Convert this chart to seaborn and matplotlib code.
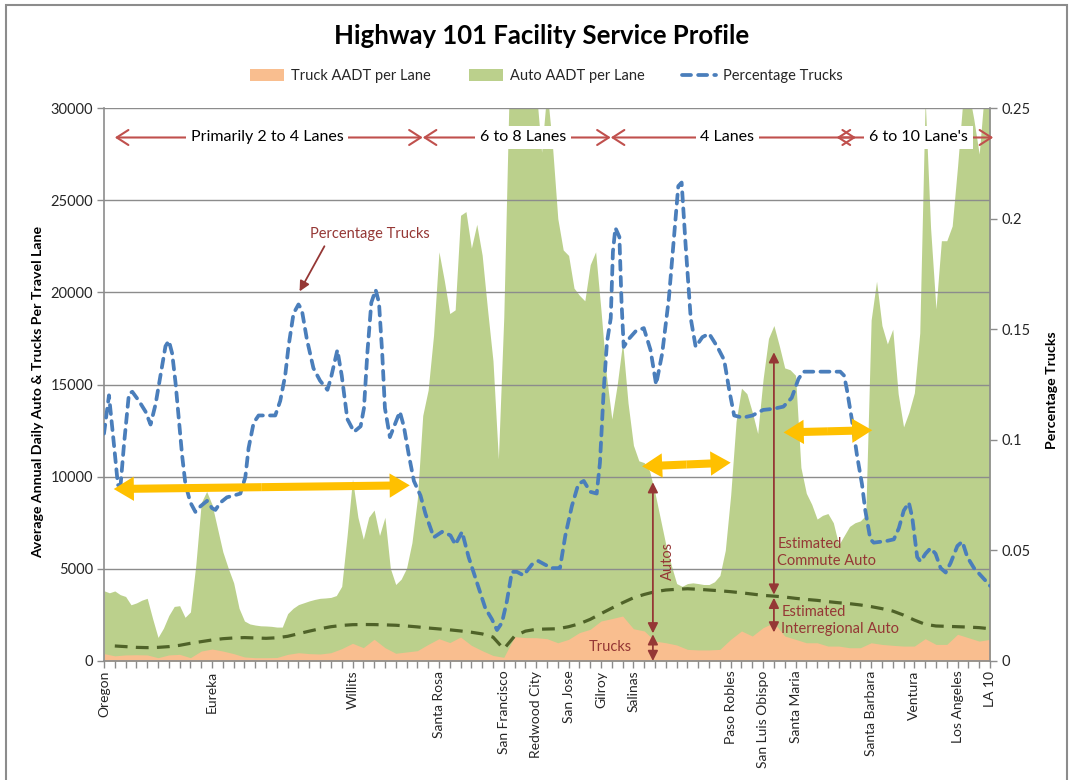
import numpy as np
import matplotlib
matplotlib.use("Agg")
import matplotlib.pyplot as plt
import seaborn as sns
from matplotlib.patches import FancyArrowPatch, Rectangle, Patch
from matplotlib.lines import Line2D

# ---------------- data ----------------
place_labels = ["Oregon", "Eureka", "Willits", "Santa Rosa", "San Francisco", "Redwood City",
                "San Jose", "Gilroy", "Salinas", "Paso Robles", "San Luis Obispo", "Santa Maria",
                "Santa Barbara", "Ventura", "Los Angeles", "LA 10"]
place_index = [0, 10, 23, 31, 37, 40, 43, 46, 49, 58, 61, 64, 71, 75, 79, 82]
n_segments = 83

# top of the stacked auto band (truck + auto), sampled every half segment
auto_top_aadt = [
    3810, 3700, 3800, 3600, 3500, 3050, 3150, 3300, 3400, 2300,
    1280, 1780, 2470, 2960, 3000, 2370, 2660, 5230, 8590, 9200,
    8490, 7200, 5920, 5030, 4240, 2860, 2170, 2010, 1950, 1910,
    1900, 1880, 1840, 1840, 2570, 2860, 3060, 3160, 3260, 3340,
    3400, 3420, 3450, 3550, 4050, 6810, 9870, 7800, 6610, 7800,
    8190, 6810, 7800, 5030, 4150, 4440, 5030, 6420, 8780, 13320,
    14700, 17670, 22200, 20630, 18850, 19050, 24180, 24380, 22400, 23690,
    22010, 19050, 16290, 10960, 18650, 31000, 31000, 31000, 31000, 31000,
    31000, 27600, 31000, 28000, 24000, 22300, 22000, 20230, 19840, 19540,
    21500, 22200, 19000, 15500, 13130, 15000, 17300, 14000, 11700, 10860,
    10760, 10300, 9100, 7700, 6300, 5200, 4200, 4050, 4200, 4240,
    4200, 4150, 4150, 4300, 4640, 6000, 9000, 13000, 14800, 14500,
    13500, 12340, 15300, 17500, 18200, 17100, 15900, 15800, 15500, 10500,
    9100, 8500, 7700, 7900, 8000, 7500, 6300, 6800, 7300, 7500,
    7600, 7900, 18500, 20600, 18200, 17200, 18000, 14500, 12700, 13500,
    14550, 17800, 30500, 23500, 19100, 22800, 22800, 23600, 26850, 30500,
    31000, 29400, 27500, 31000, 31000,
]

truck_aadt = [
    400, 280, 330, 340, 330, 180, 330, 360, 180, 540,
    650, 540, 400, 220, 180, 180, 190, 360, 450, 400,
    380, 450, 670, 960, 725, 1180, 725, 420, 490, 560,
    900, 1210, 1000, 1300, 850, 560, 300, 200, 1320, 1270,
    1265, 1210, 990, 1175, 1540, 1720, 2170, 2300, 2440, 1750,
    1630, 1080, 990, 870, 630, 600, 600, 630, 1175, 1630,
    1355, 1810, 2080, 1355, 1175, 990, 990, 810, 810, 720,
    720, 990, 900, 850, 810, 810, 1210, 900, 900, 1450,
    1265, 1080, 1175,
]

# estimated interregional auto (dashed dark green), segments 1..82
interregional_auto = [
    815, 780, 740, 725, 740, 780, 850, 960, 1050, 1140,
    1210, 1250, 1270, 1250, 1230, 1260, 1340, 1480, 1620, 1750,
    1860, 1930, 1970, 1980, 1975, 1960, 1940, 1900, 1850, 1790,
    1740, 1690, 1630, 1560, 1470, 1300, 650, 1350, 1620, 1720,
    1735, 1750, 1860, 2020, 2260, 2570, 2870, 3160, 3430, 3610,
    3760, 3850, 3890, 3920, 3890, 3850, 3810, 3760, 3700, 3630,
    3560, 3520, 3470, 3400, 3340, 3290, 3220, 3160, 3110, 3040,
    2950, 2840, 2710, 2490, 2220, 1990, 1900, 1880, 1860, 1840,
    1810, 1750,
]

pct_position = [
    0.0, 0.46, 0.92, 1.29, 1.54, 1.85, 2.31, 2.62, 3.23, 3.85, 4.31, 4.77, 5.23, 5.69, 6.0,
    6.31, 6.62, 6.92, 7.23, 7.54, 8.0, 8.46, 8.92, 9.54, 10.0, 10.31, 10.77, 11.38, 12.0,
    12.62, 13.08, 13.38, 13.85, 14.31, 15.08, 15.85, 16.31, 16.77, 17.08, 17.54, 18.0, 18.31,
    18.77, 19.38, 20.0,
    20.68, 20.98, 21.6, 22.0, 22.52, 23.14, 23.75, 24.06, 24.37, 24.74, 25.14, 25.45, 25.75,
    26.0, 26.46, 26.98, 27.38, 27.75, 28.22, 28.68, 29.29, 29.75, 30.52, 31.29, 32.06, 32.52,
    33.14, 33.75, 34.52, 35.29, 35.9, 36.37, 36.83, 37.29, 37.75, 38.22, 38.83, 39.6, 40.2,
    40.8, 41.45, 42.2, 42.7, 43.3, 43.9, 44.4, 45.0, 45.6, 45.9, 46.25, 46.55, 46.9, 47.1,
    47.33, 47.7, 47.9, 48.1, 48.57, 49.19, 49.96, 50.58, 51.1, 51.66, 52.28, 52.75, 53.15,
    53.46, 53.83, 54.3, 54.76, 55.38, 56.0, 56.77, 57.4, 57.86, 58.32, 59.1, 60.02,
    60.4, 61.0, 61.95, 62.88, 63.65, 64.27, 64.73, 65.8, 66.9, 68.14, 68.5, 68.76, 69.22,
    69.69, 70.15, 70.46, 70.93, 71.24, 72.47, 73.1, 73.56, 74.02, 74.49, 74.8, 75.26, 75.57,
    76.03, 76.5, 76.96, 77.43, 77.9, 78.36, 78.98, 79.44, 79.9, 80.52, 81.14, 81.76, 82.0,
]
pct_trucks = [
    0.1028, 0.1201, 0.0979, 0.0795, 0.0798, 0.0979, 0.1209, 0.1217, 0.1176, 0.1127, 0.1069,
    0.1160, 0.1291, 0.1423, 0.1448, 0.1390, 0.1258, 0.1094, 0.0929, 0.0798, 0.0716, 0.0674,
    0.0699, 0.0724, 0.0691, 0.0683, 0.0716, 0.0740, 0.0748, 0.0757, 0.0831, 0.0962, 0.1077,
    0.1110, 0.1110, 0.1110, 0.1176, 0.1291, 0.1423, 0.1571, 0.1612, 0.1587, 0.1456, 0.1324,
    0.1267,
    0.1226, 0.1275, 0.1406, 0.1291, 0.1094, 0.1036, 0.1061, 0.1143, 0.1390, 0.1620, 0.1678,
    0.1620, 0.1390, 0.1143, 0.1012, 0.1077, 0.1127, 0.1061, 0.0929, 0.0814, 0.0748, 0.0666,
    0.0559, 0.0584, 0.0568, 0.0526, 0.0584, 0.0469, 0.0354, 0.0239, 0.0189, 0.0140, 0.0173,
    0.0271, 0.0403, 0.0403, 0.0387, 0.0436, 0.0452,
    0.0436, 0.042, 0.042, 0.0568, 0.070, 0.080, 0.0814, 0.0765, 0.0757, 0.0896, 0.1226, 0.144,
    0.155, 0.185, 0.1958, 0.1917, 0.162, 0.142, 0.1456, 0.149, 0.1505, 0.1406, 0.125, 0.139,
    0.164, 0.1917, 0.2147, 0.2163, 0.188, 0.155, 0.142, 0.1464, 0.148, 0.142, 0.136, 0.1226,
    0.111, 0.110, 0.111,
    0.112, 0.1135, 0.114, 0.115, 0.119, 0.1275, 0.1308, 0.1308, 0.1308, 0.1308, 0.129, 0.1226,
    0.109, 0.093, 0.080, 0.068, 0.055, 0.0535, 0.0543, 0.055, 0.060, 0.068, 0.0716, 0.065,
    0.047, 0.045, 0.0485, 0.051, 0.0485, 0.042, 0.040, 0.0444, 0.052, 0.054, 0.047, 0.042,
    0.0387, 0.0354, 0.034,
]

legend_labels = ["Truck AADT per Lane", "Auto AADT per Lane", "Percentage Trucks"]
lane_labels = ["Primarily 2 to 4 Lanes", "6 to 8 Lanes", "4 Lanes", "6 to 10 Lane's"]

# ---------------- styling ----------------
sns.set_theme(style="white", context="notebook")
plt.rcParams['font.family'] = ['Lato', 'DejaVu Sans']

C_TRUCK = '#F9BE8F'
C_AUTO = '#BBD08C'
C_PCT = '#4A7EBB'
C_INTER = '#4F6228'
C_GRID = '#8C8C8C'
C_RED = '#C0504D'
C_DARKRED = '#953735'
C_YELLOW = '#FFC000'
C_TXT = '#262626'

fig = plt.figure(figsize=(10.7, 7.8), dpi=100)
fig.patch.set_facecolor('white')
ax = fig.add_axes([104 / 1070, 1 - 661 / 780, (990 - 104) / 1070, (661 - 108) / 780])

x_half = np.arange(len(auto_top_aadt)) * 0.5
x_int = np.arange(len(truck_aadt))
ax.fill_between(x_half, 0, auto_top_aadt, color=C_AUTO, lw=0, zorder=1)
ax.fill_between(x_int, 0, truck_aadt, color=C_TRUCK, lw=0, zorder=2)

sns.lineplot(x=np.arange(1, len(interregional_auto) + 1), y=interregional_auto, ax=ax,
             color=C_INTER, lw=2.3, linestyle=(0, (4.0, 2.6)), zorder=4)

ax.set_xlim(0, n_segments - 1)
ax.set_ylim(0, 30000)
ax.set_axisbelow(False)
ax.yaxis.grid(True, color=C_GRID, lw=1.0)
ax.xaxis.grid(False)

xt_labels = [''] * n_segments
for i, lab in zip(place_index, place_labels):
    xt_labels[i] = lab
ax.set_xticks(range(n_segments))
ax.set_xticklabels(xt_labels, rotation=90, fontsize=10, color=C_TXT)
yt = list(range(0, 30001, 5000))
ax.set_yticks(yt)
ax.set_yticklabels([str(v) for v in yt], fontsize=10.5, color=C_TXT)
ax.tick_params(axis='x', bottom=True, direction='out', length=5, width=1, color=C_GRID, pad=2)
ax.tick_params(axis='y', left=True, direction='out', length=5, width=1, color=C_GRID, pad=3)
for s in ['left', 'bottom']:
    ax.spines[s].set_color(C_GRID)
    ax.spines[s].set_linewidth(1.2)
ax.spines['top'].set_visible(False)
ax.spines['right'].set_visible(False)
ax.set_xlabel('')
ax.set_ylabel('')

ax2 = ax.twinx()
sns.lineplot(x=pct_position, y=pct_trucks, ax=ax2, color=C_PCT, lw=2.7,
             linestyle=(0, (2.4, 1.9)), dash_capstyle='round', zorder=3)
ax2.set_ylim(0, 0.25)
pt = [0, 0.05, 0.1, 0.15, 0.2, 0.25]
ax2.set_yticks(pt)
ax2.set_yticklabels(['0', '0.05', '0.1', '0.15', '0.2', '0.25'], fontsize=10.5, color=C_TXT)
ax2.tick_params(axis='y', right=True, direction='out', length=5, width=1, color=C_GRID, pad=3)
for s in ['left', 'bottom', 'top']:
    ax2.spines[s].set_visible(False)
ax2.spines['right'].set_color(C_GRID)
ax2.spines['right'].set_linewidth(1.2)
ax2.set_ylabel('')
ax2.grid(False)
ax2.set_xlim(0, n_segments - 1)

T = ax.transData

# lane annotation arrows
lane_y = 28400
lane_spans = [(1.0, 29.5), (29.5, 46.9), (46.9, 69.6), (67.8, 82.3)]
lane_centers = [15.1, 38.8, 57.7, 75.4]
for (x0, x1), xc, lab in zip(lane_spans, lane_centers, lane_labels):
    ax2.annotate('', xy=(x1, lane_y), xytext=(x0, lane_y), xycoords=T, textcoords=T,
                 arrowprops=dict(arrowstyle='<->,head_length=0.7,head_width=0.45', color=C_RED,
                                 lw=1.5, shrinkA=0, shrinkB=0, mutation_scale=12),
                 annotation_clip=False, zorder=5)
for xc, lab in zip(lane_centers, lane_labels):
    ax2.text(xc, lane_y, lab, transform=T, ha='center', va='center', fontsize=11.5, color='black',
             bbox=dict(boxstyle='square,pad=0.3', fc='white', ec='none'), zorder=6)

# "Percentage Trucks" callout
ax2.text(24.6, 23180, 'Percentage Trucks', transform=T, ha='center', va='center',
         fontsize=10.5, color=C_DARKRED, zorder=6)
ax2.annotate('', xy=(18.1, 20050), xytext=(20.4, 22500), xycoords=T, textcoords=T,
             arrowprops=dict(arrowstyle='-|>,head_length=0.5,head_width=0.25', color=C_DARKRED,
                             lw=1.3, shrinkA=0, shrinkB=0, mutation_scale=12), zorder=6)

# yellow double arrows
yellow = [((0.9, 9330), (28.3, 9530)), ((49.8, 10560), (58.0, 10760)), ((62.9, 12400), (71.1, 12520))]
for (xa, ya), (xb, yb) in yellow:
    xm, ym = (xa + xb) / 2, (ya + yb) / 2
    for end in [(xa, ya), (xb, yb)]:
        ax2.add_patch(FancyArrowPatch((xm, ym), end, transform=T, shrinkA=0, shrinkB=0,
                                      arrowstyle='simple,head_length=1.45,head_width=1.75,tail_width=0.58',
                                      mutation_scale=10, color=C_YELLOW, lw=0, zorder=6))

# vertical dark red arrows
vert = [(50.8, 1500, 9700), (50.8, 0, 1450), (62.0, 3600, 16750), (62.0, 1550, 3430)]
for xv, y0, y1 in vert:
    ax2.annotate('', xy=(xv, y1), xytext=(xv, y0), xycoords=T, textcoords=T,
                 arrowprops=dict(arrowstyle='<|-|>,head_length=0.5,head_width=0.25', color=C_DARKRED,
                                 lw=1.3, shrinkA=0, shrinkB=0, mutation_scale=12),
                 annotation_clip=False, zorder=6)

ax2.text(52.2, 5430, 'Autos', transform=T, rotation=90, ha='center', va='center',
         fontsize=10.5, color=C_DARKRED, zorder=6)
ax2.text(46.9, 780, 'Trucks', transform=T, ha='center', va='center',
         fontsize=10.5, color=C_DARKRED, zorder=6)
ax2.text(62.3, 5900, 'Estimated\nCommute Auto', transform=T, ha='left', va='center',
         fontsize=10.5, color=C_DARKRED, linespacing=1.25, zorder=6)
ax2.text(62.7, 2200, 'Estimated\nInterregional Auto', transform=T, ha='left', va='center',
         fontsize=10.5, color=C_DARKRED, linespacing=1.25, zorder=6)

# titles and axis labels
fig.text(0.506, 1 - 36 / 780, 'Highway 101 Facility Service Profile', ha='center', va='center',
         fontsize=18.5, fontweight='bold', color='black')
fig.text(38 / 1070, 1 - 392 / 780, 'Average Annual Daily Auto & Trucks Per Travel Lane',
         rotation=90, ha='center', va='center', fontsize=10.2, fontweight='bold', color='black')
fig.text(1052 / 1070, 1 - 390 / 780, 'Percentage Trucks', rotation=90, ha='center', va='center',
         fontsize=10.2, fontweight='bold', color='black')

handles = [Patch(facecolor=C_TRUCK, edgecolor='none'),
           Patch(facecolor=C_AUTO, edgecolor='none'),
           Line2D([], [], color=C_PCT, lw=2.7, linestyle=(0, (2.4, 1.9)), dash_capstyle='round')]
fig.legend(handles, legend_labels, loc='center', bbox_to_anchor=(0.511, 1 - 76 / 780), ncol=3,
           frameon=False, fontsize=10.5, handlelength=2.3, handleheight=0.8, columnspacing=2.6,
           handletextpad=0.5)

fig.add_artist(Rectangle((6 / 1070, -0.02), 1061 / 1070, 1.02 + (1 - 5 / 780) - 1.0,
                         transform=fig.transFigure, fill=False, edgecolor=C_GRID, lw=1.5))

fig.savefig('out.png', dpi=100, facecolor='white')
